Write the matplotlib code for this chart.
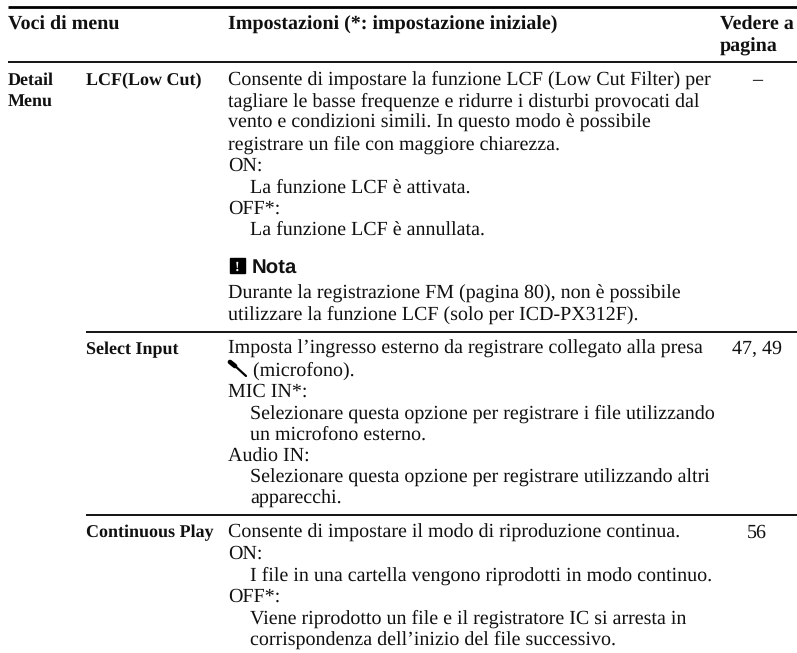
import matplotlib
matplotlib.use("Agg")
import matplotlib.pyplot as plt
from matplotlib.patches import Rectangle

plt.rcParams["text.hinting"] = "no_hinting"

W, H = 797, 653
serif = "Liberation Serif"
sans = "Liberation Sans"
fs = 14.4
fs_item = 13.0

col_header = ["Voci di menu", "Impostazioni (*: impostazione iniziale)"]
page_header = ["Vedere a", "pagina"]
group_label = ["Detail", "Menu"]
items = ["LCF(Low Cut)", "Select Input", "Continuous Play"]
pages = ["–", "47, 49", "56"]

lcf_text = [
    (0, "Consente di impostare la funzione LCF (Low Cut Filter) per"),
    (0, "tagliare le basse frequenze e ridurre i disturbi provocati dal"),
    (0, "vento e condizioni simili. In questo modo è possibile"),
    (0, "registrare un file con maggiore chiarezza."),
    (0, "ON:"),
    (1, "La funzione LCF è attivata."),
    (0, "OFF*:"),
    (1, "La funzione LCF è annullata."),
]
nota_text = [
    "Durante la registrazione FM (pagina 80), non è possibile",
    "utilizzare la funzione LCF (solo per ICD-PX312F).",
]
select_text = [
    (0, "Imposta l’ingresso esterno da registrare collegato alla presa"),
    (0, "     (microfono)."),
    (0, "MIC IN*:"),
    (1, "Selezionare questa opzione per registrare i file utilizzando"),
    (1, "un microfono esterno."),
    (0, "Audio IN:"),
    (1, "Selezionare questa opzione per registrare utilizzando altri"),
    (1, "apparecchi."),
]
play_text = [
    (0, "Consente di impostare il modo di riproduzione continua."),
    (0, "ON:"),
    (1, "I file in una cartella vengono riprodotti in modo continuo."),
    (0, "OFF*:"),
    (1, "Viene riprodotto un file e il registratore IC si arresta in"),
    (1, "corrispondenza dell’inizio del file successivo."),
]

fig = plt.figure(figsize=(W / 100, H / 100), dpi=100)
ax = fig.add_axes([0, 0, 1, 1])
ax.set_xlim(0, W)
ax.set_ylim(H, 0)
ax.axis("off")

pitch = 21.45
x_group, x_item, x_desc, x_page = 8, 86, 228, 720
indent = 22
row_y = [85, 354, 537.5]


def put(x, y, s, bold=False, family=serif, size=fs, ha="left", color="#111111"):
    ax.text(x, y, s, family=family, fontsize=size, ha=ha, va="baseline",
            fontweight="bold" if bold else "normal", color=color)


def block(y, rows):
    for i, (ind, s) in enumerate(rows):
        put(x_desc + ind * indent, y + i * pitch, s)


# rules
ax.plot([8, 797], [7, 7], color="black", lw=2.0, solid_capstyle="butt")
ax.plot([8, 797], [61.5, 61.5], color="black", lw=1.3, solid_capstyle="butt")
ax.plot([86, 797], [331.5, 331.5], color="black", lw=1.3, solid_capstyle="butt")
ax.plot([86, 797], [515, 515], color="black", lw=1.3, solid_capstyle="butt")

# header
put(x_group, 30, col_header[0], bold=True)
put(x_desc, 30, col_header[1], bold=True)
put(x_page, 30, page_header[0], bold=True)
put(x_page, 51.7, page_header[1], bold=True)

# first column
put(x_group, 85, group_label[0], bold=True, size=fs_item)
put(x_group, 106.7, group_label[1], bold=True, size=fs_item)

for name, y in zip(items, row_y):
    put(x_item, y, name, bold=True, size=fs_item)
for p, y in zip(pages, row_y):
    put(757, y, p, ha="center")

block(row_y[0], lcf_text)
block(row_y[1], select_text)
block(row_y[2], play_text)

# nota heading
ax.add_patch(Rectangle((230, 258), 15, 15, color="black"))
put(237.5, 270.5, "!", bold=True, size=10, ha="center", color="white")
put(252, 272.7, "Nota", bold=True, family=sans, size=14.7)
put(x_desc, 298.5, nota_text[0])
put(x_desc, 320, nota_text[1])

# microphone glyph
ax.plot([234, 246], [365, 376], color="black", lw=1.6, solid_capstyle="round")
ax.plot([230, 235], [362, 366], color="black", lw=3.4, solid_capstyle="round")

fig.savefig("out.png", dpi=100)
